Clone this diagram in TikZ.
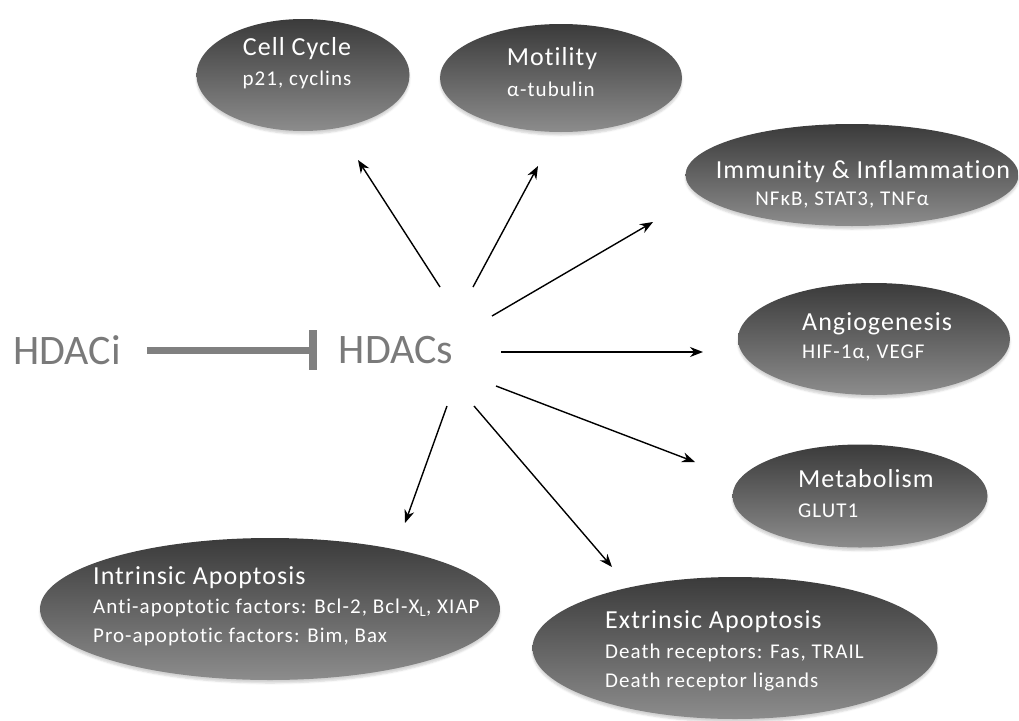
\documentclass[tikz,border=0pt]{standalone}
\usepackage{fontspec}
\setmainfont{Carlito}[Ligatures=NoCommon]
\usetikzlibrary{arrows.meta,positioning,shapes.geometric,shadows.blur}

\begin{document}
\begin{tikzpicture}[x=1pt, y=-1pt,
    blob/.style={ellipse, top color=black!77, bottom color=black!45,
      blur shadow={shadow xshift=0pt, shadow yshift=-3pt, shadow opacity=18}},
    head/.style={text=white, font=\fontsize{26}{30}\selectfont\addfontfeatures{LetterSpace=4}, inner sep=0pt},
    info/.style={text=white, font=\fontsize{21}{28.5}\selectfont\addfontfeatures{LetterSpace=5}, inner sep=0pt, align=left},
    big/.style={text=black!52, font=\fontsize{42}{46}\selectfont, inner sep=0pt},
    arr/.style={-{Stealth[length=13pt, width=10pt]}, line width=1.4pt},
    inhibit/.style={-{Bar[width=40pt, line width=8pt]}, line width=7pt, draw=black!50}]
    \useasboundingbox (0,0) rectangle (1019,720);

    % outcomes
    \node[blob, minimum width=213pt, minimum height=112pt] (cellcycle) at (303,75) {};
    \node[blob, minimum width=242pt, minimum height=108pt] (motility) at (561,78) {};
    \node[blob, minimum width=333pt, minimum height=102pt] (immunity) at (852,175) {};
    \node[blob, minimum width=272pt, minimum height=112pt] (angio) at (874,339) {};
    \node[blob, minimum width=255pt, minimum height=103pt] (metab) at (860,496) {};
    \node[blob, minimum width=460pt, minimum height=142pt] (intrinsic) at (270,609) {};
    \node[blob, minimum width=405pt, minimum height=142pt] (extrinsic) at (735,648) {};

    \node[head, anchor=base] (cellcycleT) at (297,55) {Cell Cycle};
    \node[info, anchor=base] (cellcycleI) at (297,85) {p21, cyclins};
    \node[head, anchor=base] (motilityT) at (552,65) {Motility};
    \node[info, anchor=base] (motilityI) at (551,96) {α-tubulin};
    \node[head, anchor=base] (immunityT) at (863,178) {Immunity \& Inflammation};
    \node[info, anchor=base] (immunityI) at (842,205) {NFκB, STAT3, TNFα};
    \node[head, anchor=base west] (angioT) at (802,330) {Angiogenesis};
    \node[info, anchor=base west] (angioI) at (802,358) {HIF-1α, VEGF};
    \node[head, anchor=base west] (metabT) at (798,487) {Metabolism};
    \node[info, anchor=base west] (metabI) at (798,517) {GLUT1};
    \node[head, anchor=base west] (intrinsicT) at (93,584) {Intrinsic Apoptosis};
    \node[info, anchor=base west] (intrinsicI) at (93,642)
      {Anti-apoptotic factors: Bcl-2, Bcl-X\textsubscript{L}, XIAP\\Pro-apoptotic factors: Bim, Bax};
    \node[head, anchor=base west] (extrinsicT) at (605,628) {Extrinsic Apoptosis};
    \node[info, anchor=base west] (extrinsicI) at (605,687)
      {Death receptors: Fas, TRAIL\\Death receptor ligands};

    % inhibitor and target
    \node[big] (hdaci) at (67,350) {HDACi};
    \node[big] (hdacs) at (396,350) {HDACs};
    \draw[inhibit, shorten <=26pt, shorten >=22pt] (hdaci.east) -- (hdacs.west);

    % arrow ends
    \coordinate (from-cc) at (440,287); \coordinate (to-cc) at (358,160);
    \coordinate (from-mo) at (473,287); \coordinate (to-mo) at (538,166);
    \coordinate (from-im) at (492,316); \coordinate (to-im) at (653,222);
    \coordinate (from-an) at (501,352); \coordinate (to-an) at (703,352);
    \coordinate (from-me) at (496,386); \coordinate (to-me) at (695,462);
    \coordinate (from-ex) at (474,406); \coordinate (to-ex) at (612,567);
    \coordinate (from-in) at (447,406); \coordinate (to-in) at (405,523);

    \draw[arr] (from-cc) -- (to-cc);
    \draw[arr] (from-mo) -- (to-mo);
    \draw[arr] (from-im) -- (to-im);
    \draw[arr] (from-an) -- (to-an);
    \draw[arr] (from-me) -- (to-me);
    \draw[arr] (from-ex) -- (to-ex);
    \draw[arr] (from-in) -- (to-in);
  \end{tikzpicture}
\end{document}
